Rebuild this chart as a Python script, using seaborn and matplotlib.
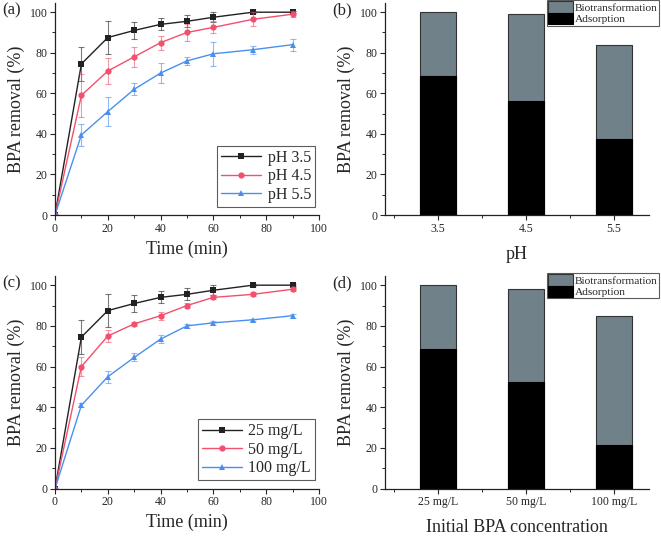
import matplotlib
matplotlib.use("Agg")
import matplotlib.pyplot as plt
from matplotlib.patches import Patch
from matplotlib.ticker import MultipleLocator
import seaborn as sns
import pandas as pd

# Datos de remoción de BPA
time = [0, 10, 20, 30, 40, 50, 60, 75, 90]

ph35 = [0, 74.5, 87.5, 91, 94, 95.5, 97.5, 100, 100]
ph35_err = [0, 8.5, 8, 4, 3, 3, 2.5, 0.5, 0.5]
ph45 = [0, 59, 71, 78, 85, 90, 92.5, 96.5, 99]
ph45_err = [0, 10.5, 6.5, 5, 3.5, 4, 3, 3.5, 1.5]
ph55 = [0, 39.5, 51, 62, 70, 76, 79.5, 81.5, 84]
ph55_err = [0, 5.5, 7, 3, 5, 2, 6, 2, 3]

c25 = [0, 74.5, 87.5, 91, 94, 95.5, 97.5, 100, 100]
c25_err = [0, 8.5, 8, 4, 3, 3, 2.5, 0.5, 0.5]
c50 = [0, 60, 75, 81, 85, 90, 94, 95.5, 98]
c50_err = [0, 4.5, 3, 1, 2, 1, 1, 1, 1]
c100 = [0, 41, 55, 64.5, 73.5, 80, 81.5, 83, 85]
c100_err = [0, 1, 3, 2, 2, 1, 1, 0.5, 1]

ph_labels = ["3.5", "4.5", "5.5"]
ph_total = [100, 99, 84]
ph_ads = [68.5, 56, 37.5]

conc_labels = ["25 mg/L", "50 mg/L", "100 mg/L"]
conc_total = [100, 98, 85]
conc_ads = [68.5, 52.5, 21.5]

sns.set_style("ticks")
plt.rcParams["font.family"] = ["Liberation Serif", "DejaVu Serif"]

colors = ["#222222", "#f2506c", "#4a8ff0"]
markers = ["s", "o", "^"]
gray = "#718189"

fig = plt.figure(figsize=(6.61, 5.37), dpi=100)
ax_a = fig.add_axes([0.0832, 0.5996, 0.3994, 0.3947])
ax_b = fig.add_axes([0.5825, 0.5996, 0.3994, 0.3947])
ax_c = fig.add_axes([0.0832, 0.0900, 0.3994, 0.3960])
ax_d = fig.add_axes([0.5825, 0.0900, 0.3994, 0.3960])


def line_panel(ax, series, errs, labels):
    for ys, es, lab, col, mk in zip(series, errs, labels, colors, markers):
        ax.errorbar(time, ys, yerr=es, fmt="none", ecolor=col, elinewidth=0.8,
                    capsize=2.5, capthick=0.8, alpha=0.6)
        df = pd.DataFrame({"t": time, "y": ys})
        sns.lineplot(data=df, x="t", y="y", ax=ax, color=col, marker=mk,
                     markersize=4.5, markeredgewidth=0, linewidth=1.0, label=lab)
    ax.set_xlim(0, 100)
    ax.set_ylim(0, 104.5)
    ax.xaxis.set_major_locator(MultipleLocator(20))
    ax.xaxis.set_minor_locator(MultipleLocator(10))
    ax.yaxis.set_major_locator(MultipleLocator(20))
    ax.yaxis.set_minor_locator(MultipleLocator(10))
    ax.set_xlabel("Time (min)", fontsize=13, labelpad=4)
    ax.set_ylabel("BPA removal (%)", fontsize=13, labelpad=3)
    leg = ax.legend(loc="lower right", fontsize=11.5, frameon=True, fancybox=False,
                    edgecolor="#333333", handlelength=2.5, handletextpad=0.4,
                    borderpad=0.25, labelspacing=0.15, borderaxespad=0,
                    bbox_to_anchor=(0.985, 0.04))
    leg.get_frame().set_linewidth(0.8)


def bar_panel(ax, labels, total, ads, xlabel):
    df = pd.DataFrame({"cat": labels, "total": total, "ads": ads})
    sns.barplot(data=df, x="cat", y="total", ax=ax, color=gray, width=0.41,
                edgecolor="#333333", linewidth=0.8, saturation=1)
    sns.barplot(data=df, x="cat", y="ads", ax=ax, color="black", width=0.41,
                edgecolor="black", linewidth=0.8, saturation=1)
    ax.set_xlim(-0.6, 2.4)
    ax.set_ylim(0, 104.5)
    ax.set_xticks([-0.5, 0.5, 1.5], minor=True)
    ax.yaxis.set_major_locator(MultipleLocator(20))
    ax.yaxis.set_minor_locator(MultipleLocator(10))
    ax.set_xlabel(xlabel, fontsize=13, labelpad=8)
    ax.set_ylabel("BPA removal (%)", fontsize=13, labelpad=3)
    handles = [Patch(facecolor=gray, edgecolor="#333333", linewidth=0.8),
               Patch(facecolor="black", edgecolor="black", linewidth=0.8)]
    leg = ax.legend(handles, ["Biotransformation", "Adsorption"], loc="upper left",
                    bbox_to_anchor=(0.612, 1.015), fontsize=8.2, frameon=True,
                    fancybox=False, edgecolor="#333333", handlelength=2.2,
                    handleheight=1.2, handletextpad=0.2, borderpad=0.1,
                    labelspacing=0.0, borderaxespad=0)
    leg.get_frame().set_linewidth(0.8)


line_panel(ax_a, [ph35, ph45, ph55], [ph35_err, ph45_err, ph55_err],
           ["pH 3.5", "pH 4.5", "pH 5.5"])
line_panel(ax_c, [c25, c50, c100], [c25_err, c50_err, c100_err],
           ["25 mg/L", "50 mg/L", "100 mg/L"])
bar_panel(ax_b, ph_labels, ph_total, ph_ads, "pH")
bar_panel(ax_d, conc_labels, conc_total, conc_ads, "Initial BPA concentration")

for ax in [ax_a, ax_b, ax_c, ax_d]:
    sns.despine(ax=ax)
    for s in ["left", "bottom"]:
        ax.spines[s].set_linewidth(0.9)
        ax.spines[s].set_color("#222222")
    ax.tick_params(which="major", direction="out", length=3.5, width=0.8,
                   labelsize=8.5, pad=2)
    ax.tick_params(which="minor", direction="out", length=2, width=0.7)

for ax, lab in zip([ax_a, ax_b, ax_c, ax_d], ["(a)", "(b)", "(c)", "(d)"]):
    ax.text(-0.2, 0.965, lab, transform=ax.transAxes, fontsize=12,
            ha="left", va="center")

fig.savefig("out.png", dpi=100)
